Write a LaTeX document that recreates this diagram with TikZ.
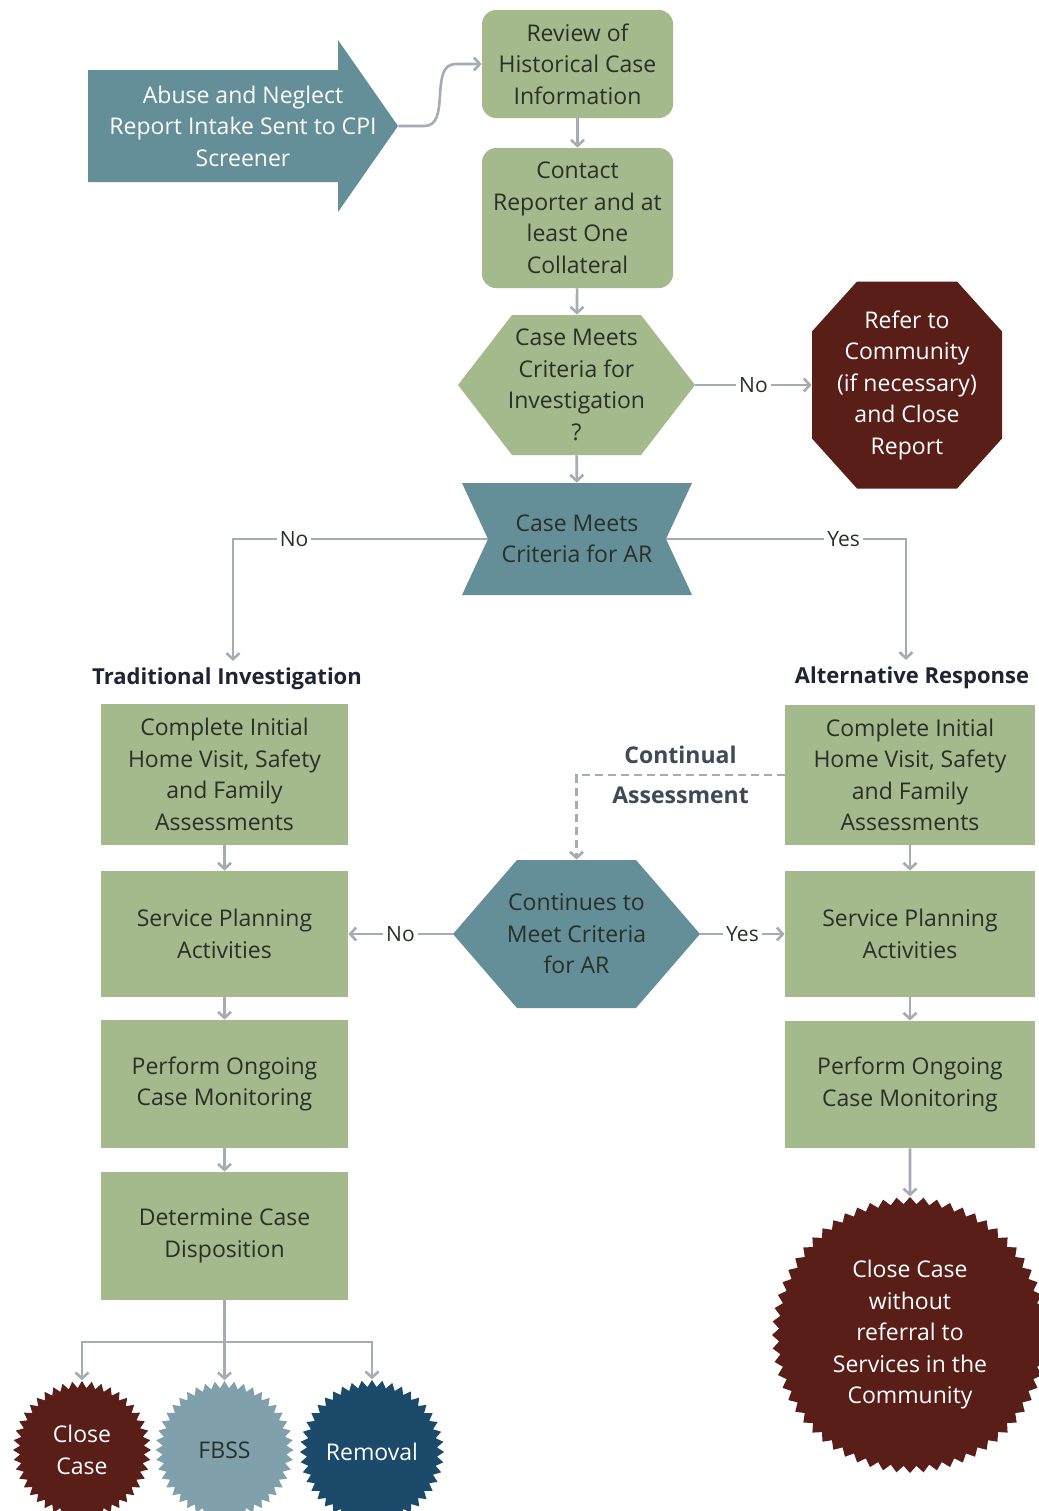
\documentclass[tikz,border=0pt]{standalone}
\usepackage{fontspec}
\setmainfont{Open Sans}
\usetikzlibrary{positioning,arrows.meta,calc,shapes.symbols}

\definecolor{boxgreen}{RGB}{164,185,140}
\definecolor{tealfill}{RGB}{100,143,152}
\definecolor{darkbrown}{RGB}{90,30,24}
\definecolor{fbssblue}{RGB}{128,161,171}
\definecolor{navyfill}{RGB}{28,74,107}
\definecolor{linegray}{RGB}{165,172,180}
\definecolor{boxtext}{RGB}{40,48,40}
\definecolor{headtext}{RGB}{30,36,50}
\definecolor{notetext}{RGB}{62,74,86}

\tikzset{
  hexfill/.style 2 args={path picture={
    \fill[#1] ($(path picture bounding box.north west)+(#2,0)$) -- ($(path picture bounding box.north east)+(-#2,0)$)
      -- (path picture bounding box.east) -- ($(path picture bounding box.south east)+(-#2,0)$)
      -- ($(path picture bounding box.south west)+(#2,0)$) -- (path picture bounding box.west) -- cycle;}},
  bowfill/.style 2 args={path picture={
    \fill[#1] (path picture bounding box.north west) -- (path picture bounding box.north east)
      -- ($(path picture bounding box.east)+(-#2,0)$) -- (path picture bounding box.south east)
      -- (path picture bounding box.south west) -- ($(path picture bounding box.west)+(#2,0)$) -- cycle;}},
  octfill/.style n args={3}{path picture={
    \fill[#1] ($(path picture bounding box.north west)+(#2,0)$) -- ($(path picture bounding box.north east)+(-#2,0)$)
      -- ($(path picture bounding box.north east)+(0,#3)$) -- ($(path picture bounding box.south east)+(0,-#3)$)
      -- ($(path picture bounding box.south east)+(-#2,0)$) -- ($(path picture bounding box.south west)+(#2,0)$)
      -- ($(path picture bounding box.south west)+(0,-#3)$) -- ($(path picture bounding box.north west)+(0,#3)$) -- cycle;}},
  arrowfill/.style={path picture={
    \fill[tealfill] ($(path picture bounding box.north west)+(0,30)$) -- ($(path picture bounding box.north west)+(250,30)$)
      -- ($(path picture bounding box.north west)+(250,0)$) -- (path picture bounding box.east)
      -- ($(path picture bounding box.south west)+(250,0)$) -- ($(path picture bounding box.south west)+(250,-30)$)
      -- ($(path picture bounding box.south west)+(0,-30)$) -- cycle;}}
}

\begin{document}
\begin{tikzpicture}[x=0.5pt,y=-0.5pt,font=\fontsize{11.5}{15.75}\selectfont]
  \tikzstyle{box}=[fill=boxgreen,text=boxtext,align=center,inner sep=2pt]
  \tikzstyle{colbox}=[box,minimum width=123.5pt,minimum height=64pt]
  \tikzstyle{figbox}=[align=center,inner sep=2pt]
  \tikzstyle{burst}=[shape=starburst,random starburst=0,starburst point height=3.5pt,starburst points=44,align=center,inner sep=0pt]
  \tikzstyle{conn}=[draw=linegray,line width=1.3pt,-{Straight Barb[length=3pt,width=6.5pt]}]
  \tikzstyle{lbl}=[fill=white,text=boxtext,font=\fontsize{10.5}{12}\selectfont,inner sep=1.5pt]
  \tikzstyle{head}=[text=headtext,font=\fontsize{11}{12}\selectfont\bfseries]
  \useasboundingbox[fill=white] (0,0) rectangle (1039,1511);

  % intake and screening
  \node[figbox,arrowfill,text=white,minimum width=155pt,minimum height=86pt] (intake) at (243,126) {Abuse and Neglect\\ Report Intake Sent to CPI\\ Screener};
  \node[box,rounded corners=7pt,minimum width=95.5pt,minimum height=54pt] (review) at (577.5,64) {Review of\\ Historical Case\\ Information};
  \node[box,rounded corners=7pt,minimum width=95.5pt,minimum height=70pt] (contact) at (577.5,218) {Contact\\ Reporter and at\\ least One\\ Collateral};
  \node[figbox,hexfill={boxgreen}{54},text=boxtext,minimum width=118.5pt,minimum height=70pt] (inv) at (576.5,385) {Case Meets\\ Criteria for\\ Investigation\\ ?};
  \node[figbox,octfill={darkbrown}{45}{50},text=white,minimum width=95pt,minimum height=103.5pt] (refer) at (907,385) {Refer to\\ Community\\ (if necessary)\\ and Close\\ Report};
  \node[figbox,bowfill={tealfill}{26},text=boxtext,minimum width=115pt,minimum height=56pt] (ar) at (577,539) {Case Meets\\ Criteria for AR};

  % two tracks
  \node[head] (ti) at (227,679) {Traditional Investigation};
  \node[head] (alt) at (912,678) {Alternative Response};
  \node[colbox,minimum height=70.5pt] (L1) at (224.5,774.5) {Complete Initial\\ Home Visit, Safety\\ and Family\\ Assessments};
  \node[colbox,minimum height=63pt] (L2) at (224.5,934) {Service Planning\\ Activities};
  \node[colbox] (L3) at (224.5,1084) {Perform Ongoing\\ Case Monitoring};
  \node[colbox] (L4) at (224.5,1236) {Determine Case\\ Disposition};
  \node[colbox,minimum width=125pt,minimum height=70pt] (R1) at (910,775) {Complete Initial\\ Home Visit, Safety\\ and Family\\ Assessments};
  \node[colbox,minimum width=125pt,minimum height=63pt] (R2) at (910,934) {Service Planning\\ Activities};
  \node[colbox,minimum width=125pt,minimum height=63.5pt] (R3) at (910,1084.5) {Perform Ongoing\\ Case Monitoring};
  \node[figbox,hexfill={tealfill}{64},text=boxtext,minimum width=123.5pt,minimum height=74pt] (cont) at (576.5,934) {Continues to\\ Meet Criteria\\ for AR};

  % endings
  \node[burst,fill=darkbrown,text=white,starburst points=64,minimum width=138pt,minimum height=138pt] (closear) at (910,1335) {Close Case\\ without\\ referral to\\ Services in the\\ Community};
  \node[burst,fill=darkbrown,text=white,minimum width=69pt,minimum height=69pt] (closeti) at (82,1450) {Close\\ Case};
  \node[burst,fill=fbssblue,text=boxtext,minimum width=69pt,minimum height=69pt] (fbss) at (224.5,1450) {FBSS};
  \node[burst,fill=navyfill,text=white,minimum width=72pt,minimum height=72pt] (removal) at (372,1452) {Removal};
  \coordinate (split) at (224.5,1342);

  \draw[conn] (intake.east) -- ++(26,0) to[out=0,in=180] ($(review.west)+(-26,0)$) -- (review.west);
  \draw[conn] (review) -- (contact);
  \draw[conn] (contact) -- (inv);
  \draw[conn] (inv.east) -- node[lbl] {No} (refer.west);
  \draw[conn] (inv) -- (ar);
  \draw[conn] ($(ar.west)+(26,0)$) -| node[lbl,pos=0.38] {No} ([xshift=3pt]ti.north);
  \draw[conn] ($(ar.east)+(-26,0)$) -| node[lbl,pos=0.37] {Yes} ([xshift=-3pt]alt.north);
  \draw[conn] (L1) -- (L2);
  \draw[conn] (L2) -- (L3);
  \draw[conn] (L3) -- (L4);
  \draw[conn] (R1) -- (R2);
  \draw[conn] (R2) -- (R3);
  \draw[conn] (R3) -- (closear);
  \draw[conn,dash pattern=on 4pt off 2.5pt] (R1.west) -| node[pos=0.25,text=notetext,align=center,font=\fontsize{11.5}{20}\selectfont\bfseries] {Continual\\ Assessment} (cont.north);
  \draw[conn] (cont.east) -- node[lbl] {Yes} (R2.west);
  \draw[conn] (cont.west) -- node[lbl] {No} (L2.east);
  \draw[draw=linegray,line width=1.3pt] (L4.south) -- (split);
  \draw[conn] (split) -| (closeti.north);
  \draw[conn] (split) -- (fbss.north);
  \draw[conn] (split) -| (removal.north);
\end{tikzpicture}
\end{document}
